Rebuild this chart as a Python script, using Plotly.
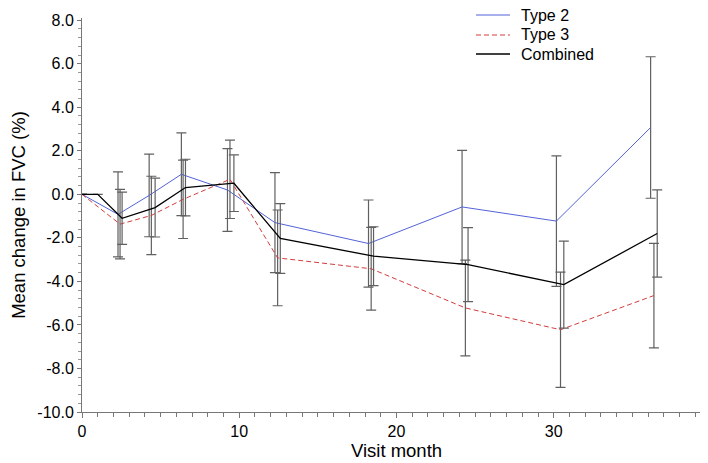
import plotly.graph_objects as go

# visit months (each series slightly offset so error bars don't overlap)
month_t2 = [0, 2.29, 4.27, 6.32, 9.25, 12.27, 18.22, 24.17, 30.17, 36.16]
month_t3 = [0, 2.42, 4.41, 6.43, 9.41, 12.44, 18.39, 24.38, 30.43, 36.37]
month_comb = [0, 1.0, 2.55, 4.65, 6.58, 9.66, 12.61, 18.54, 24.55, 30.64, 36.58]

# mean change in FVC (%)
fvc_t2 = [0, -0.92, -0.05, 0.92, 0.20, -1.30, -2.26, -0.58, -1.23, 3.07]
fvc_t3 = [0, -1.37, -0.97, -0.23, 0.69, -2.92, -3.42, -5.22, -6.22, -4.65]
fvc_comb = [0, 0, -1.10, -0.61, 0.31, 0.51, -2.03, -2.84, -3.23, -4.15, -1.80]

# error bar half widths
err_t2 = [0, 1.95, 1.90, 1.90, 1.90, 2.30, 2.00, 2.60, 3.00, 3.25]
err_t3 = [0, 1.60, 1.80, 1.80, 1.80, 2.20, 1.90, 2.20, 2.65, 2.40]
err_comb = [0, 0, 1.20, 1.35, 1.30, 1.30, 1.60, 1.35, 1.70, 2.00, 2.00]

# axis ticks (plain hyphen minus, as in the original)
y_tickvals = [-10, -8, -6, -4, -2, 0, 2, 4, 6, 8]
y_ticktext = ["-10.0", "-8.0", "-6.0", "-4.0", "-2.0", "0.0", "2.0", "4.0", "6.0", "8.0"]
x_tickvals = [0, 10, 20, 30, 40]

series_names = ["Type 2", "Type 3", "Combined"]
series_colors = ["#5363d8", "#d23c3c", "#000000"]
series_dash = ["solid", "5px,3px", "solid"]
series_width = [1, 1, 1.3]

font = "Liberation Sans, Arial, sans-serif"
bar_color = "#606060"
axis_color = "#777777"

fig = go.Figure()

data = [(month_t2, fvc_t2, err_t2), (month_t3, fvc_t3, err_t3),
        (month_comb, fvc_comb, err_comb)]

for (x, y, err), name, color, dash, width in zip(
        data, series_names, series_colors, series_dash, series_width):
    fig.add_trace(go.Scatter(
        x=x, y=y, name=name, mode="lines", showlegend=False,
        line=dict(color=color, dash=dash, width=width),
        error_y=dict(type="data", array=err, visible=True,
                     color=bar_color, thickness=1.2, width=5),
    ))

# legend drawn by hand so the rows sit as tight as in the original
plot_w = 708 - 74 - 5
plot_h = 463 - 10 - 59
legend_rows_px = [7, 27, 46]
for row_y, name, color, dash, width in zip(
        legend_rows_px, series_names, series_colors, series_dash, series_width):
    py = (404 - row_y) / plot_h
    fig.add_shape(type="line", xref="paper", yref="paper",
                  x0=(468 - 74) / plot_w, x1=(502 - 74) / plot_w, y0=py, y1=py,
                  line=dict(color=color, dash=dash, width=width))
    fig.add_annotation(text=name, xref="paper", yref="paper",
                       x=(511 - 74) / plot_w, y=py, xanchor="left", yanchor="middle",
                       showarrow=False, font=dict(size=16))

fig.update_layout(
    width=708, height=463,
    margin=dict(l=74, r=5, t=10, b=59, autoexpand=False),
    paper_bgcolor="white", plot_bgcolor="white",
    font=dict(family=font, size=16, color="black"),
    showlegend=False,
    xaxis=dict(
        range=[0, 40], tickvals=x_tickvals,
        showline=True, linecolor=axis_color, linewidth=1,
        ticks="outside", ticklen=5, tickcolor=axis_color,
        minor=dict(dtick=1, ticks="outside", ticklen=4, tickcolor=axis_color),
        showgrid=False, zeroline=False, automargin=False,
        title=dict(text="Visit month", font=dict(size=18.5), standoff=4),
    ),
    yaxis=dict(
        range=[-10, 8.1], tickvals=y_tickvals, ticktext=y_ticktext,
        showline=True, linecolor=axis_color, linewidth=1,
        ticks="outside", ticklen=4, tickcolor=axis_color,
        minor=dict(dtick=0.4, ticks="outside", ticklen=3, tickcolor="#999999"),
        showgrid=False, zeroline=False, automargin=False,
        title=dict(text="Mean change in FVC (%)", font=dict(size=18.5), standoff=6),
    ),
)

fig.write_html("out.html")
